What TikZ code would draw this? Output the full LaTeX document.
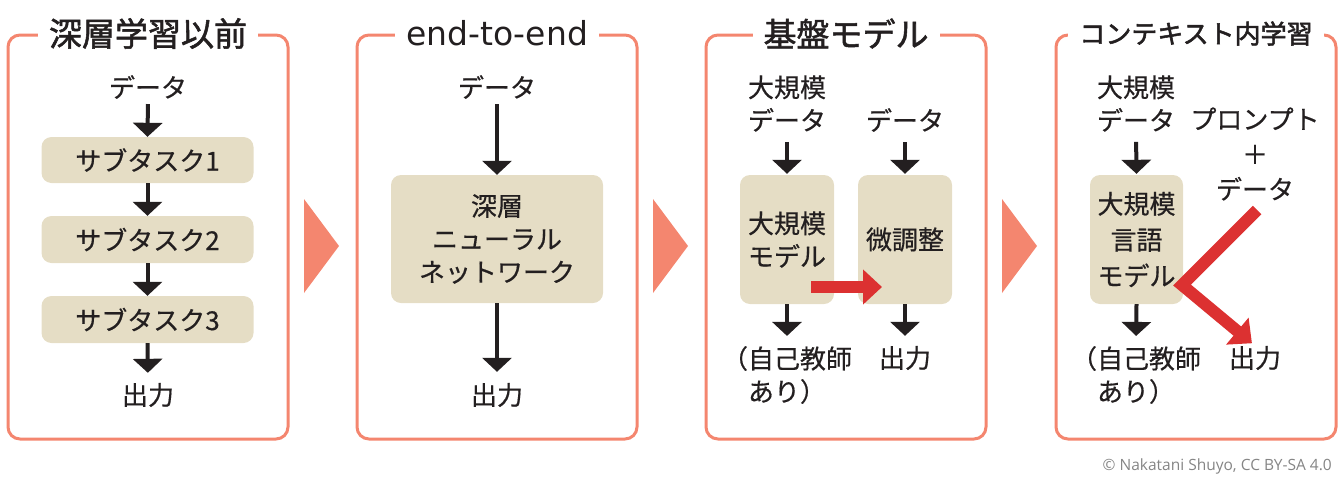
\documentclass[tikz,border=0pt]{standalone}
\usepackage{fontspec}
\setmainfont{Noto Sans CJK JP}[FakeBold=0.5]
\newfontfamily\ttlfont{Noto Sans CJK JP}[FakeBold=1.6]
\newfontfamily\ttlfontb{Noto Sans CJK JP}[FakeBold=2.0]
\newfontfamily\latinfont{DejaVu Sans}
\newfontfamily\cpfont{Open Sans}
\usetikzlibrary{arrows.meta}
\definecolor{salmon}{HTML}{F4866F}
\definecolor{beige}{HTML}{E5DDC5}
\definecolor{redc}{HTML}{DC3131}
\definecolor{ink}{HTML}{231F20}
\definecolor{cpgray}{HTML}{858585}
\tikzset{
  frame/.style={draw=salmon, line width=3pt, rounded corners=12pt, minimum width=280pt, minimum height=404pt, inner sep=0pt},
  ttl/.style={fill=white, inner xsep=11pt, inner ysep=0pt, text=ink, font=\ttlfont\fontsize{33}{33}\selectfont},
  txt/.style={inner sep=0pt, align=center, text=ink, font=\fontsize{26}{33}\selectfont},
  box/.style={fill=beige, rounded corners=10pt, inner sep=0pt, align=center, text=ink, font=\fontsize{26}{33}\selectfont},
  blk/.style={draw=ink, line width=4pt, -{Triangle[width=29pt,length=14pt]}},
  redarr/.style={draw=redc, line width=12pt, miter limit=10, -{Triangle[width=34pt,length=19pt]}},
  tri/.style={fill=salmon}
}
\begin{document}
\begin{tikzpicture}[x=1pt,y=-1pt]
\useasboundingbox (0,0) rectangle (1343,485);
% frames
\node[frame] (f1) at (148,237) {};
\node[frame] (f2) at (497,237) {};
\node[frame] (f3) at (846,237) {};
\node[frame] (f4) at (1196,237) {};
\node[ttl] (t1) at (f1.north) {深層学習以前};
\node[ttl, font=\latinfont\fontsize{33}{33}\selectfont] (t2) at (f2.north) {end-to-end};
\node[ttl] (t3) at (f3.north) {基盤モデル};
\node[ttl, font=\ttlfontb\fontsize{26}{26}\selectfont] (t4) at (f4.north) {コンテキスト内学習};
% triangles
\fill[tri] (304,199) -- (339,246) -- (304,293) -- cycle;
\fill[tri] (653,199) -- (688,246) -- (653,293) -- cycle;
\fill[tri] (1002,199) -- (1037,246) -- (1002,293) -- cycle;
% panel 1
\node[txt] (d1) at (148,87) {データ};
\node[box, minimum width=212pt, minimum height=46pt] (b1) at (147.5,160) {サブタスク1};
\node[box, minimum width=212pt, minimum height=47pt] (b2) at (147.5,239.5) {サブタスク2};
\node[box, minimum width=212pt, minimum height=47pt] (b3) at (147.5,319.5) {サブタスク3};
\node[txt] (o1) at (148,395) {出力};
\draw[blk, shorten <=5pt] (d1.south) -- (b1.north);
\draw[blk] (b1.south) -- (b2.north);
\draw[blk] (b2.south) -- (b3.north);
\draw[blk, shorten >=10pt] (b3.south) -- (o1.north);
% panel 2
\node[txt] (d2) at (497,87) {データ};
\node[box, minimum width=212pt, minimum height=128pt] (b21) at (497,239) {深層\\ニューラル\\ネットワーク};
\node[txt] (o2) at (497,395) {出力};
\draw[blk, shorten <=5pt] (d2.south) -- (b21.north);
\draw[blk, shorten >=11pt] (b21.south) -- (o2.north);
% panel 3
\node[txt] (d3a) at (787,103.5) {大規模\\データ};
\node[txt] (d3b) at (905,120) {データ};
\node[box, minimum width=94pt, minimum height=129pt] (b31) at (787,239.5) {大規模\\モデル};
\node[box, minimum width=94pt, minimum height=129pt] (b32) at (905,239.5) {微調整};
\node[txt] (s3) at (787,375) {（自己教師\\あり）};
\node[txt] (o3) at (905,358) {出力};
\draw[blk, shorten <=10pt, shorten >=1pt] (d3a.south) -- (b31.north);
\draw[blk, shorten <=10pt, shorten >=1pt] (d3b.south) -- (b32.north);
\draw[blk, shorten >=10pt] (b31.south) -- (s3.north);
\draw[blk, shorten >=10pt] (b32.south) -- (o3.north);
\coordinate (rs) at (811,287);
\coordinate (re) at (882,287);
\draw[redarr] (rs) -- (re);
% panel 4
\node[txt] (d4a) at (1136,103.5) {大規模\\データ};
\node[txt, font=\fontsize{26}{35}\selectfont] (p4) at (1255,154) {プロンプト\\＋\\データ};
\node[box, minimum width=93pt, minimum height=129pt, font=\fontsize{26}{36}\selectfont] (b4) at (1136.5,239.5) {大規模\\言語\\モデル};
\node[txt] (s4) at (1136,375) {（自己教師\\あり）};
\node[txt] (o4) at (1255,358) {出力};
\draw[blk, shorten <=10pt, shorten >=1pt] (d4a.south) -- (b4.north);
\draw[blk, shorten >=10pt] (b4.south) -- (s4.north);
\coordinate (c4a) at (1257,210);
\coordinate (c4b) at (1182,285);
\draw[redarr, shorten >=4pt] (c4a) -- (c4b) -- (o4.north);
% copyright
\node[anchor=east, inner sep=0pt, text=cpgray, font=\cpfont\fontsize{15.5}{15.5}\selectfont] (cp) at (1332,466) {© Nakatani Shuyo, CC BY-SA 4.0};
\end{tikzpicture}
\end{document}
